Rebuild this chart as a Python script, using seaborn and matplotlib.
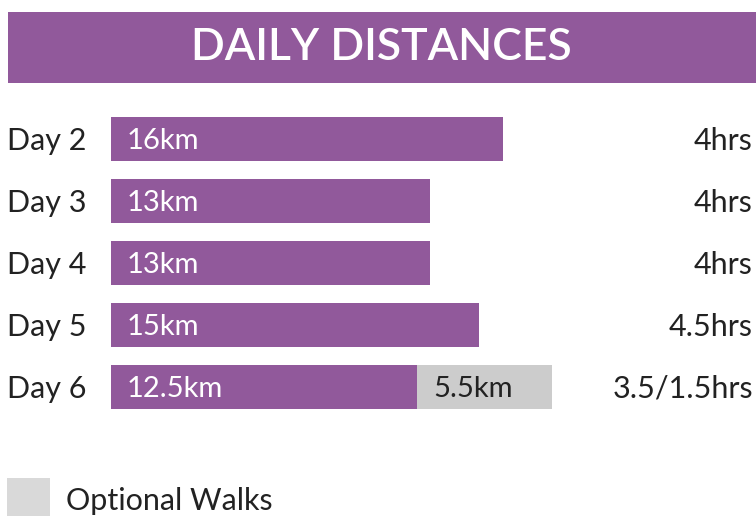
import matplotlib
matplotlib.use("Agg")
import matplotlib.pyplot as plt
import matplotlib.transforms as mtransforms
from matplotlib.patches import Rectangle
import seaborn as sns
import pandas as pd

# --- data ---
days = ["Day 2", "Day 3", "Day 4", "Day 5", "Day 6"]
walk_km = [16, 13, 13, 15, 12.5]
optional_km = [0, 0, 0, 0, 5.5]
walk_labels = ["16km", "13km", "13km", "15km", "12.5km"]
optional_labels = ["", "", "", "", "5.5km"]
hours = ["4hrs", "4hrs", "4hrs", "4.5hrs", "3.5/1.5hrs"]

# --- style ---
sns.set_theme(style="white")
plt.rcParams["font.family"] = ["Lato", "DejaVu Sans"]
c_purple = "#91599b"
c_grey = "#cccccc"
c_legend = "#d9d9d9"
c_text = "#222222"

W, H = 756, 516
fig = plt.figure(figsize=(W / 100, H / 100), dpi=100)
fig.patch.set_facecolor("white")

# title banner
fig.add_artist(Rectangle((8 / W, 1 - 83 / H), (W - 8) / W, 71 / H,
                         transform=fig.transFigure, facecolor=c_purple,
                         edgecolor="none"))
fig.text(381 / W, 1 - 48 / H, "DAILY DISTANCES", color="white",
         fontsize=32, fontweight="semibold", ha="center", va="center")

# bars axes
ax = fig.add_axes([111 / W, 1 - 418 / H, 645 / W, 310 / H])
df = pd.DataFrame({"day": days, "walk": walk_km,
                   "total": [a + b for a, b in zip(walk_km, optional_km)]})
sns.barplot(data=df, x="total", y="day", color=c_grey, orient="h",
            width=0.7, linewidth=0, saturation=1, ax=ax)
sns.barplot(data=df, x="walk", y="day", color=c_purple, orient="h",
            width=0.7, linewidth=0, saturation=1, ax=ax)
ax.set_xlim(0, 645 / 24.5)
ax.set_ylim(4.5, -0.5)
ax.axis("off")

trans = mtransforms.blended_transform_factory(fig.transFigure, ax.transData)
for i, d in enumerate(days):
    ax.text(7 / W, i + 0.03, d, transform=trans, ha="left", va="center",
            fontsize=22, color=c_text)
    ax.text(753 / W, i + 0.03, hours[i], transform=trans, ha="right",
            va="center", fontsize=22, color=c_text)
    ax.text(0.65, i + 0.03, walk_labels[i], ha="left", va="center",
            fontsize=21, color="white")
    if optional_km[i] > 0:
        ax.text(walk_km[i] + 0.65, i + 0.03, optional_labels[i], ha="left",
                va="center", fontsize=21, color=c_text)

# legend
fig.add_artist(Rectangle((7 / W, 0), 43 / W, 38 / H,
                         transform=fig.transFigure, facecolor=c_legend,
                         edgecolor="none"))
fig.text(66 / W, 1 - 501 / H, "Optional Walks", fontsize=22,
         color=c_text, ha="left", va="center")

fig.savefig("out.png", dpi=100)
